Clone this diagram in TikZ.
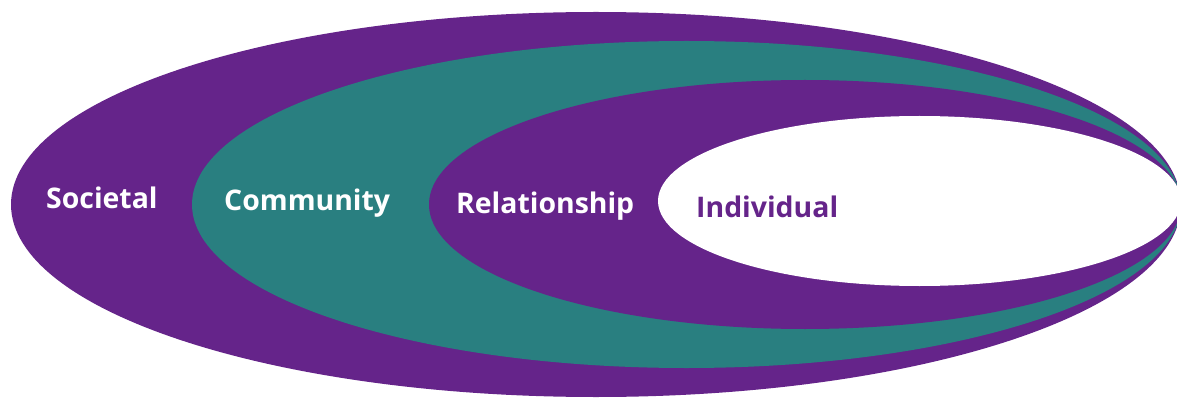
\documentclass[tikz,border=0pt]{standalone}
\usepackage{fontspec}
\setmainfont{Open Sans}
\definecolor{ringpurple}{HTML}{65248A}
\definecolor{ringteal}{HTML}{297F80}
\begin{document}
\begin{tikzpicture}[x=1pt,y=-1pt,
  ringlabel/.style={anchor=base west,inner sep=0pt,font=\fontsize{28.4}{32}\selectfont\bfseries}]
\useasboundingbox (0,0) rectangle (1177,398);
\clip (0,0) rectangle (1177,398);
% nested levels, all meeting at the right end
\fill[ringpurple] (596,204.5) ellipse [x radius=585, y radius=192.5];
\fill[ringteal] (686.5,204.5) ellipse [x radius=494.5, y radius=163.5];
\fill[ringpurple] (805,204.5) ellipse [x radius=376, y radius=124.5];
\fill[white] (919.5,201) ellipse [x radius=261.5, y radius=85];
% level names
\node[ringlabel,text=white] (societal) at (46,208) {Societal};
\node[ringlabel,text=white] (community) at (224,210) {Community};
\node[ringlabel,text=white] (relationship) at (456,213) {Relationship};
\node[ringlabel,text=ringpurple] (individual) at (696,217) {Individual};
\end{tikzpicture}
\end{document}
